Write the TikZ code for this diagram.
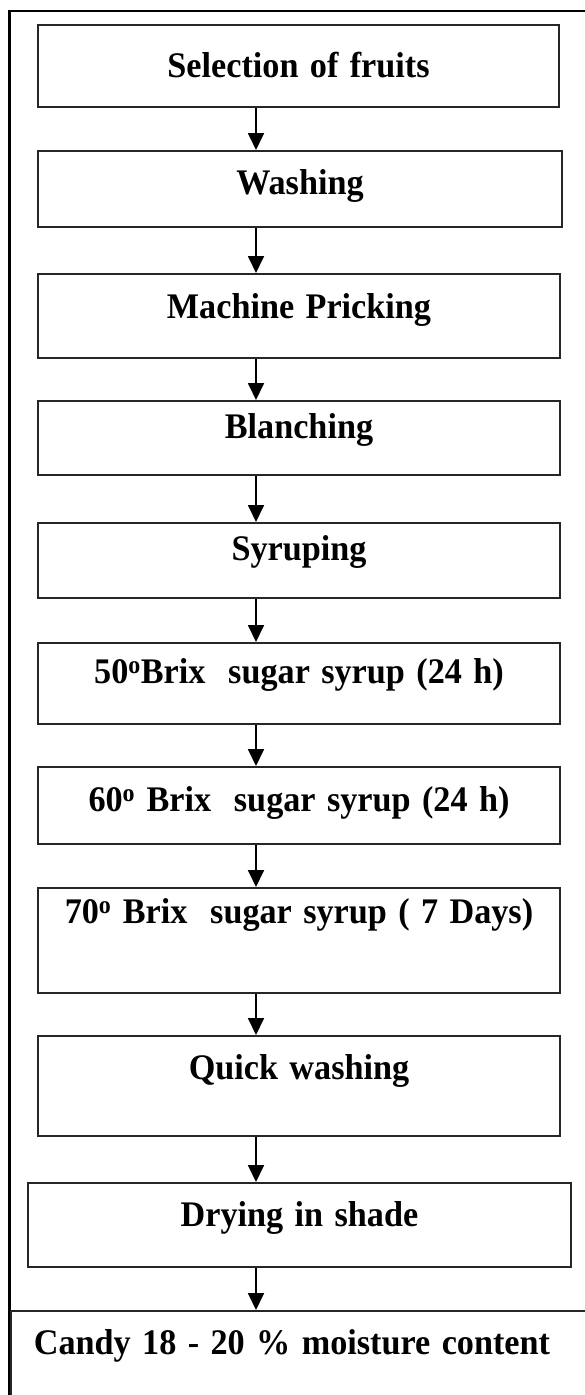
\documentclass[tikz,border=0pt]{standalone}
\usepackage{graphicx}
\usepackage{fontspec}
\setmainfont{Liberation Serif}[WordSpace=0.8]
\usetikzlibrary{arrows.meta,calc}
\newcommand{\steptxt}[1]{\scalebox{0.95}[1]{#1}}
\begin{document}
\begin{tikzpicture}[x=1pt,y=-1pt,
  stepbox/.style={draw=black!85,line width=2pt,inner sep=0pt,align=center,
    font=\fontsize{36}{40}\selectfont\bfseries,anchor=north west},
  flow/.style={line width=1.8pt,-{Triangle[length=17pt,width=16pt]}},
  frameline/.style={line width=2.4pt}]
\useasboundingbox (0,0) rectangle (585,1395);
\fill[white] (0,0) rectangle (585,1395);
\coordinate (ax) at (256,0);
\coordinate (fa) at (9.5,1400);
\coordinate (fb) at (9.5,11);
\coordinate (fc) at (590,11);
\draw[frameline] (fa) -- (fb) -- (fc);

\node[stepbox,text width=521pt,text height=52pt,text depth=30pt] (b1) at (37,24) {\steptxt{Selection of fruits}};
\node[stepbox,text width=524pt,text height=43pt,text depth=33pt] (b2) at (37,150) {\steptxt{Washing}};
\node[stepbox,text width=522pt,text height=44pt,text depth=40pt] (b3) at (37,273) {\steptxt{Machine Pricking}};
\node[stepbox,text width=522pt,text height=37pt,text depth=37pt] (b4) at (37,400) {\steptxt{Blanching}};
\node[stepbox,text width=522pt,text height=37pt,text depth=38pt] (b5) at (37,522) {\steptxt{Syruping}};
\node[stepbox,text width=522pt,text height=40pt,text depth=41pt] (b6) at (37,642) {\steptxt{50\textsuperscript{o}Brix\ \ sugar syrup (24 h)}};
\node[stepbox,text width=522pt,text height=44pt,text depth=33pt] (b7) at (37,766) {\steptxt{60\textsuperscript{o} Brix\ \ sugar syrup (24 h)}};
\node[stepbox,text width=522pt,text height=35pt,text depth=70pt] (b8) at (37,887) {\steptxt{70\textsuperscript{o} Brix\ \ sugar syrup ( 7 Days)}};
\node[stepbox,text width=522pt,text height=43pt,text depth=57pt] (b9) at (37,1035) {\steptxt{Quick washing}};
\node[stepbox,text width=543pt,text height=43pt,text depth=41pt] (b10) at (27,1182) {\steptxt{Drying in shade}};
\node[stepbox,text width=575pt,text height=43pt,text depth=60pt] (b11) at (9.5,1310) {\hspace*{-12pt}\steptxt{Candy 18 - 20 \% moisture content}};

\foreach \a/\b in {b1/b2,b2/b3,b3/b4,b4/b5,b5/b6,b6/b7,b7/b8,b8/b9,b9/b10,b10/b11}
  \draw[flow] (\a.south -| ax) -- (\b.north -| ax);
\end{tikzpicture}
\end{document}
